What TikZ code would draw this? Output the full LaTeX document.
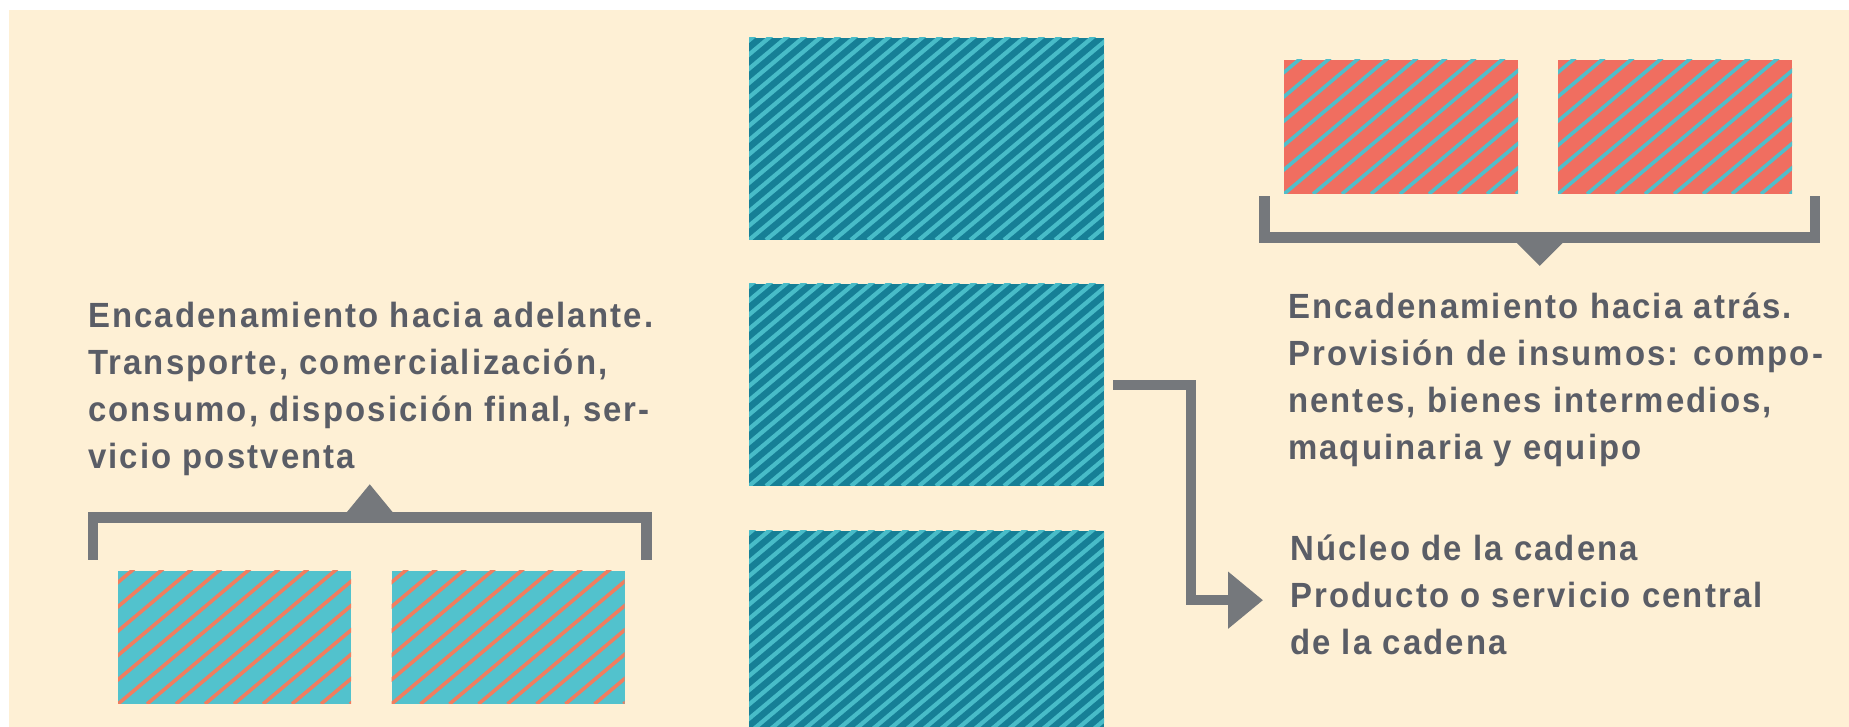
\documentclass[tikz,border=0pt]{standalone}
\usepackage{fontspec}
\newfontfamily\notefont{Liberation Sans}[FakeStretch=0.94,LetterSpace=6]
\usetikzlibrary{calc,arrows.meta}
\definecolor{creambg}{RGB}{254,240,213}
\definecolor{coreteal}{RGB}{22,127,150}
\definecolor{corestripe}{RGB}{72,188,200}
\definecolor{insalmon}{RGB}{240,110,96}
\definecolor{instripe}{RGB}{80,190,202}
\definecolor{outteal}{RGB}{82,194,205}
\definecolor{outstripe}{RGB}{240,125,95}
\definecolor{linegray}{RGB}{117,120,124}
\definecolor{notegray}{RGB}{90,93,102}

% diagonal stripes inside a box: colour, spacing, width
\newcommand{\hatch}[3]{%
  \foreach \k in {-20,...,30}
    \draw[#1,line width=#3] ([xshift=\k*#2]path picture bounding box.south west) -- ++(40:420pt);}

\begin{document}
\begin{tikzpicture}[x=1pt,y=1pt,>=Triangle]
  \tikzset{
    box/.style={rectangle,draw=none,inner sep=0pt},
    core/.style={box,minimum width=355pt,minimum height=202pt,fill=coreteal,
      path picture={\hatch{corestripe}{17pt}{4.2pt}}},
    inbox/.style={box,minimum width=234pt,minimum height=134pt,fill=insalmon,
      path picture={\hatch{instripe}{29pt}{3.6pt}}},
    outbox/.style={box,minimum width=233pt,minimum height=133pt,fill=outteal,
      path picture={\hatch{outstripe}{29pt}{3.6pt}}},
    link/.style={draw=linegray,line width=10.5pt,line join=miter},
    note/.style={anchor=north west,align=left,inner sep=0pt,text=notegray,
      font=\notefont\bfseries\fontsize{35}{47}\selectfont},
  }
  \clip (0,0) rectangle (1849,727);
  \fill[white] (0,0) rectangle (1849,727);
  \fill[creambg] (9,0) rectangle (1849,717);

  % core of the chain
  \node[core] (core1) at (926.5,588) {};
  \node[core] (core2) at (926.5,342) {};
  \node[core] (core3) at (926.5,95) {};

  % inputs (backward) and outputs (forward)
  \node[inbox] (in1) at (1401,600) {};
  \node[inbox] (in2) at (1675,600) {};
  \node[outbox] (out1) at (234.5,89.5) {};
  \node[outbox] (out2) at (508,89.5) {};

  \node[note] (fwd) at (88,425) {Encadenamiento hacia adelante.\\Transporte, comercialización,\\consumo, disposición final, ser-\\vicio postventa};
  \node[note] (bwd) at (1288,434) {Encadenamiento hacia atrás.\\Provisión de insumos: compo-\\nentes, bienes intermedios,\\maquinaria y equipo};
  \node[note] (nucleo) at (1290,192) {Núcleo de la cadena\\Producto o servicio central\\de la cadena};

  % brackets
  \coordinate (lb1) at ([shift={(-25pt,11pt)}]out1.north west);
  \coordinate (lb2) at ([shift={(22pt,11pt)}]out2.north east);
  \draw[link] (lb1) -- ++(0,42.5pt) -| (lb2);
  \fill[linegray] ($(lb1)!0.5!(lb2)+(-23pt,47.5pt)$) -- ++(23pt,28pt) -- ++(23pt,-28pt) -- cycle;

  \coordinate (rb1) at ([shift={(-19.5pt,-2pt)}]in1.south west);
  \coordinate (rb2) at ([shift={(23pt,-2pt)}]in2.south east);
  \draw[link] (rb1) -- ++(0,-41.5pt) -| (rb2);
  \fill[linegray] ($(rb1)!0.5!(rb2)+(-23pt,-46.75pt)$) -- ++(23pt,-23pt) -- ++(23pt,23pt) -- cycle;

  % from the core to its label
  \draw[link,-{Triangle[length=35pt,width=55pt]}] ([xshift=9pt]core2.east) -- ++(78pt,0) |- ([xshift=-27pt,yshift=-5pt]nucleo.west);
\end{tikzpicture}
\end{document}
